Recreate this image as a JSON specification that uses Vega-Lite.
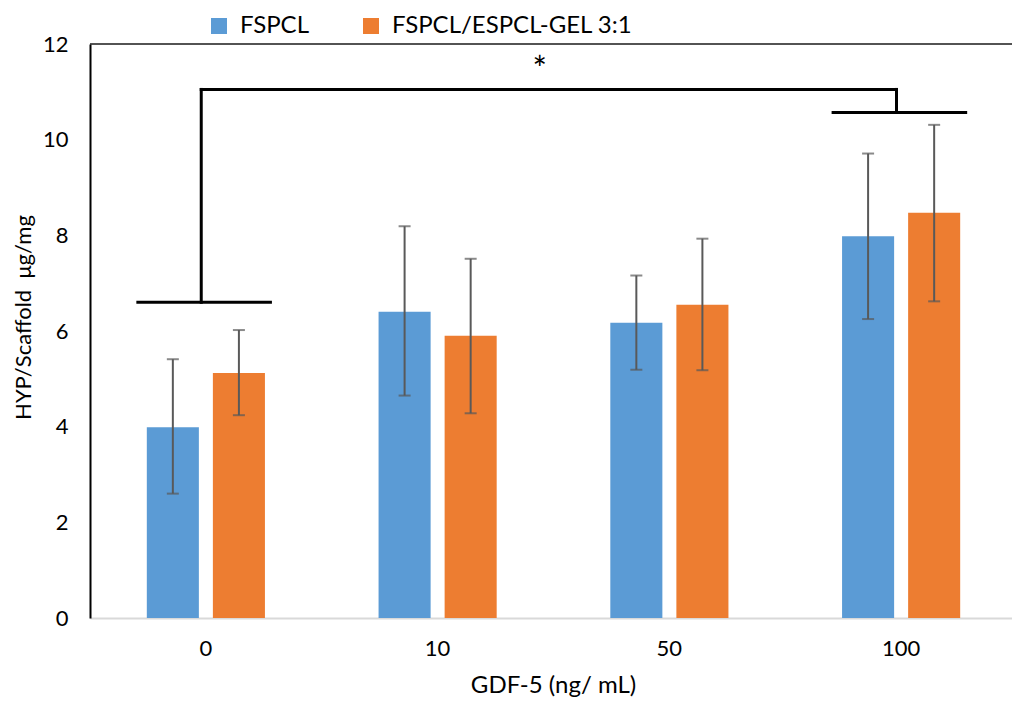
{
  "$schema": "https://vega.github.io/schema/vega-lite/v6.json",
  "autosize": {"type": "none"},
  "padding": {"left": 90, "top": 44, "right": 0, "bottom": 84},
  "width": 922,
  "height": 574,
  "background": "white",
  "config": {
    "view": {"stroke": null},
    "font": "Lato",
    "axis": {"grid": false, "labelFont": "Lato", "titleFont": "Lato", "labelColor": "#000", "titleColor": "#000", "labelFontSize": 22, "titleFontSize": 22, "titleFontWeight": "normal", "ticks": false}
  },
  "datasets": {
    "bars": [
      {"g": "0", "s": "FSPCL", "v": 3.99, "lo": 2.60, "hi": 5.41},
      {"g": "0", "s": "FSPCL/ESPCL-GEL 3:1", "v": 5.12, "lo": 4.24, "hi": 6.02},
      {"g": "10", "s": "FSPCL", "v": 6.40, "lo": 4.65, "hi": 8.19},
      {"g": "10", "s": "FSPCL/ESPCL-GEL 3:1", "v": 5.90, "lo": 4.28, "hi": 7.51},
      {"g": "50", "s": "FSPCL", "v": 6.17, "lo": 5.19, "hi": 7.16},
      {"g": "50", "s": "FSPCL/ESPCL-GEL 3:1", "v": 6.55, "lo": 5.18, "hi": 7.93},
      {"g": "100", "s": "FSPCL", "v": 7.98, "lo": 6.25, "hi": 9.71},
      {"g": "100", "s": "FSPCL/ESPCL-GEL 3:1", "v": 8.47, "lo": 6.62, "hi": 10.31}
    ],
    "legs": [
      {"g": "0", "y": 6.60, "top": 11.05},
      {"g": "100", "y": 10.57, "top": 11.05}
    ],
    "span": [
      {"from": "0", "to": "100", "y": 11.05, "star": 11.62, "label": "*"}
    ]
  },
  "layer": [
    {
      "data": {"name": "bars"},
      "mark": {"type": "bar"},
      "encoding": {
        "x": {"field": "g", "type": "nominal",
              "scale": {"domain": ["0", "10", "50", "100"], "range": [0, 927], "paddingInner": 0, "paddingOuter": 0},
              "axis": {"title": "GDF-5 (ng/ mL)", "titleFontSize": 24, "labelAngle": 0, "labelPadding": 20, "titlePadding": 14, "domainColor": "#d9d9d9", "domainWidth": 2, "titleX": 463}},
        "xOffset": {"field": "s", "type": "nominal", "scale": {"paddingInner": 0.212, "paddingOuter": 0.86}},
        "y": {"field": "v", "type": "quantitative",
              "scale": {"domain": [0, 12], "nice": false},
              "axis": {"title": "HYP/Scaffold\u00a0 μg/mg", "values": [0, 2, 4, 6, 8, 10, 12], "format": "d", "labelPadding": 22, "domainColor": "#000", "domainWidth": 2, "titleX": -67, "titleY": 273, "titleAngle": -90, "titleBaseline": "middle", "titleAlign": "center"}},
        "color": {"field": "s", "type": "nominal",
                  "scale": {"domain": ["FSPCL", "FSPCL/ESPCL-GEL 3:1"], "range": ["#5B9BD5", "#ED7D31"]},
                  "legend": {"title": null, "orient": "none", "legendX": 117, "legendY": -30, "direction": "horizontal", "symbolType": "square", "symbolSize": 256, "symbolStrokeWidth": 0, "labelFont": "Lato", "labelFontSize": 24, "labelLimit": 0, "labelColor": "#000", "labelOffset": 9, "columnPadding": 50, "padding": 0}}
      }
    },
    {
      "data": {"name": "bars"},
      "mark": {"type": "rule", "color": "#595959", "strokeWidth": 2},
      "encoding": {
        "x": {"field": "g", "type": "nominal"},
        "xOffset": {"field": "s", "type": "nominal"},
        "y": {"field": "lo", "type": "quantitative"},
        "y2": {"field": "hi"}
      }
    },
    {
      "data": {"name": "bars"},
      "mark": {"type": "tick", "color": "#595959", "size": 12, "thickness": 2},
      "encoding": {
        "x": {"field": "g", "type": "nominal"},
        "xOffset": {"field": "s", "type": "nominal"},
        "y": {"field": "lo", "type": "quantitative"}
      }
    },
    {
      "data": {"name": "bars"},
      "mark": {"type": "tick", "color": "#595959", "size": 12, "thickness": 2},
      "encoding": {
        "x": {"field": "g", "type": "nominal"},
        "xOffset": {"field": "s", "type": "nominal"},
        "y": {"field": "hi", "type": "quantitative"}
      }
    },
    {
      "data": {"name": "legs"},
      "mark": {"type": "rule", "color": "#000", "strokeWidth": 3, "strokeCap": "square"},
      "encoding": {
        "x": {"field": "g", "type": "nominal", "bandPosition": 0.48},
        "y": {"field": "y", "type": "quantitative"},
        "y2": {"field": "top"}
      }
    },
    {
      "data": {"name": "legs"},
      "mark": {"type": "rule", "color": "#000", "strokeWidth": 3},
      "encoding": {
        "x": {"field": "g", "type": "nominal", "bandPosition": 0.2},
        "x2": {"field": "g", "bandPosition": 0.785},
        "y": {"field": "y", "type": "quantitative"}
      }
    },
    {
      "data": {"name": "span"},
      "mark": {"type": "rule", "color": "#000", "strokeWidth": 3, "strokeCap": "square"},
      "encoding": {
        "x": {"field": "from", "type": "nominal", "bandPosition": 0.48},
        "x2": {"field": "to", "bandPosition": 0.48},
        "y": {"field": "y", "type": "quantitative"}
      }
    },
    {
      "data": {"name": "span"},
      "mark": {"type": "text", "fontSize": 34, "font": "Lato", "color": "#000", "baseline": "middle", "align": "center", "dy": 9},
      "encoding": {
        "x": {"datum": "10", "type": "nominal", "bandPosition": 0.94},
        "y": {"field": "star", "type": "quantitative"},
        "text": {"field": "label"}
      }
    },
    {
      "data": {"values": [{"edge": 12}]},
      "mark": {"type": "rule", "color": "#1a1a1a", "strokeWidth": 1.5},
      "encoding": {
        "y": {"field": "edge", "type": "quantitative"}
      }
    }
  ]
}
